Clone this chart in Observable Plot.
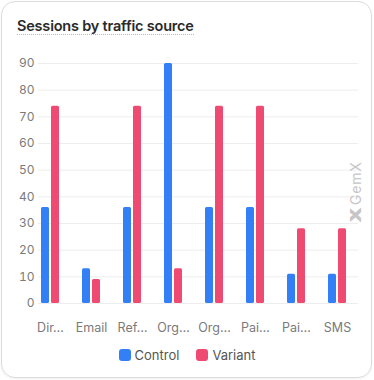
<!DOCTYPE html>
<html>
<head>
<meta charset="utf-8">
<script src="https://cdn.jsdelivr.net/npm/d3@7"></script>
<script src="https://cdn.jsdelivr.net/npm/@observablehq/plot@0.6"></script>
<style>
  html, body { margin: 0; padding: 0; background: #fff; }
  body { width: 374px; height: 380px; position: relative; overflow: hidden; font-family: Inter, "Noto Sans", sans-serif; }
  .card { position: absolute; left: 1px; top: 1px; width: 369px; height: 375px; border: 1px solid #dcdcdc; border-radius: 14px; box-shadow: 0 1px 2px rgba(0,0,0,0.06); }
  .title { position: absolute; left: 17px; top: 18px; font-size: 14.5px; font-weight: 600; color: #2a2a2a; letter-spacing: -0.2px; border-bottom: 1px dotted #b8b8b8; line-height: 16px; padding-bottom: 0px; }
  #chart { position: absolute; left: 0; top: 40px; }
  .legend { position: absolute; left: 0; width: 374px; top: 347px; display: flex; justify-content: center; gap: 17px; font-size: 13px; color: #555; }
  .legend .item { display: flex; align-items: center; gap: 4px; }
  .legend .sw { width: 12px; height: 12px; border-radius: 3px; display: inline-block; }
  .wm { position: absolute; left: 350px; top: 223px; transform-origin: 0 0; transform: rotate(-90deg); color: #c6c6c6; line-height: 12px; height: 12px; white-space: nowrap; display: flex; align-items: center; gap: 2px; }
  .wm b { font-weight: 900; font-size: 15px; display: inline-block; transform: scale(1.35, 1); transform-origin: 0 50%; width: 16px; }
  .wm span { letter-spacing: 0.8px; font-weight: 400; font-size: 14px; }
</style>
</head>
<body>
<div class="card"></div>
<div class="title">Sessions by traffic source</div>
<div id="chart"></div>
<div class="wm"><b>X</b><span>GemX</span></div>
<div class="legend" id="legend"></div>
<script>
const categories = ["Direct", "Email", "Referral", "Organic Search", "Organic Social", "Paid Search", "Paid Social", "SMS"];
const control = [36, 13, 36, 90, 36, 36, 11, 11];
const variant = [74, 9, 74, 13, 74, 74, 28, 28];
const seriesNames = ["Control", "Variant"];
const seriesColors = ["#3380f6", "#ef4a71"];
const yTicks = [0, 10, 20, 30, 40, 50, 60, 70, 80, 90];

const rows = [];
categories.forEach((c, i) => {
  rows.push({category: c, series: "Control", value: control[i]});
  rows.push({category: c, series: "Variant", value: variant[i]});
});

const trunc = s => s.length > 5 ? s.slice(0, 3) + "…" : s;

const plot = Plot.plot({
  width: 374,
  height: 300,
  marginTop: 23,
  marginBottom: 37,
  marginLeft: 38,
  marginRight: 16,
  style: {fontFamily: "Inter, 'Noto Sans', sans-serif", fontSize: "12px", color: "#7a7a7a", background: "transparent"},
  x: {domain: categories, range: [29.2, 357.5], paddingInner: 0.805, paddingOuter: 0.4025, align: 0.5, label: null},
  y: {domain: [0, 90], label: null},
  color: {domain: seriesNames, range: seriesColors},
  marks: [
    Plot.gridY(yTicks, {stroke: "#ededed", strokeOpacity: 1}),
    Plot.axisY(yTicks, {tickSize: 0, tickPadding: 4, label: null, fontSize: 12, fill: "#7a7a7a"}),
    Plot.axisX({tickSize: 0, tickPadding: 20, label: null, tickFormat: trunc, fontSize: 12.5, fill: "#7a7a7a"}),
    Plot.barY(rows.filter(d => d.series === "Control"), {x: "category", y: "value", fill: "series", dx: -5, rx: 1.5}),
    Plot.barY(rows.filter(d => d.series === "Variant"), {x: "category", y: "value", fill: "series", dx: 5, rx: 1.5})
  ]
});
document.getElementById("chart").appendChild(plot);

const lg = document.getElementById("legend");
seriesNames.forEach((n, i) => {
  const it = document.createElement("div");
  it.className = "item";
  it.innerHTML = `<span class="sw" style="background:${seriesColors[i]}"></span><span>${n}</span>`;
  lg.appendChild(it);
});
</script>
</body>
</html>
